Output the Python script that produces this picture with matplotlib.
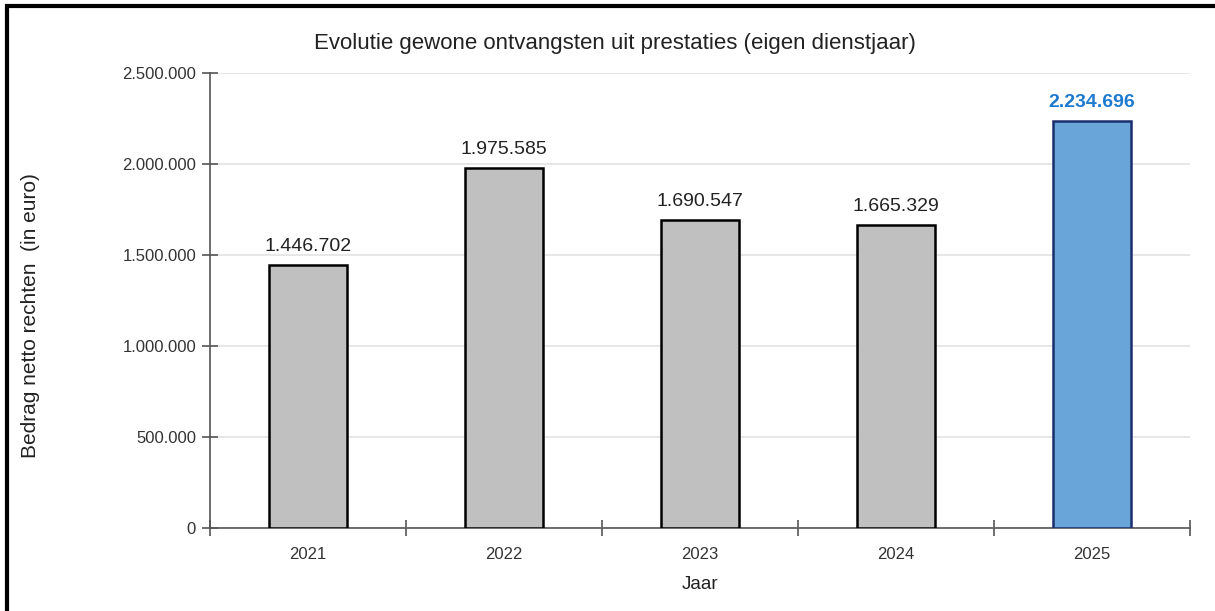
import matplotlib.pyplot as plt
from matplotlib.patches import Rectangle
import numpy as np

plt.rcParams['font.family'] = ['Liberation Sans', 'DejaVu Sans']

years = ['2021', '2022', '2023', '2024', '2025']
values = [1446702, 1975585, 1690547, 1665329, 2234696]
labels = ['1.446.702', '1.975.585', '1.690.547', '1.665.329', '2.234.696']
yticks = [0, 500000, 1000000, 1500000, 2000000, 2500000]
ytick_labels = ['0', '500.000', '1.000.000', '1.500.000', '2.000.000', '2.500.000']

fig = plt.figure(figsize=(12.15, 6.11), dpi=100)
ax = fig.add_axes([0.1728, 0.1358, 0.8066, 0.7447])

x = np.arange(len(years))
face = ['#c0c0c0'] * 4 + ['#6aa5da']
edge = ['#000000'] * 4 + ['#1a2f6e']
ax.bar(x, values, width=0.4, color=face, edgecolor=edge, linewidth=1.8, zorder=3)

for i, (v, lab) in enumerate(zip(values, labels)):
    if i == len(values) - 1:
        ax.text(i, v + 55000, lab, ha='center', va='bottom', fontsize=14,
                color='#1f7bd0', fontweight='bold')
    else:
        ax.text(i, v + 55000, lab, ha='center', va='bottom', fontsize=14,
                color='#222222')

ax.set_xlim(-0.5, 4.5)
ax.set_ylim(0, 2500000)
ax.set_yticks(yticks)
ax.set_yticklabels(ytick_labels)
ax.set_xticks(x)
ax.set_xticklabels(years)
ax.set_xticks(np.arange(-0.5, 5, 1), minor=True)
ax.tick_params(axis='x', which='major', length=0, pad=14, labelsize=12, colors='#333333')
ax.tick_params(axis='x', which='minor', direction='inout', length=12, width=1.2, color='#555555')
ax.tick_params(axis='y', direction='inout', length=12, width=1.2, color='#555555',
               labelsize=12, labelcolor='#333333', pad=4)

ax.grid(axis='y', color='#e3e3e3', linewidth=1.2, zorder=0)
for s in ['top', 'right']:
    ax.spines[s].set_visible(False)
for s in ['left', 'bottom']:
    ax.spines[s].set_color('#555555')
    ax.spines[s].set_linewidth(1.2)

fig.text(615 / 1215, 1 - 44 / 611,
         'Evolutie gewone ontvangsten uit prestaties (eigen dienstjaar)',
         ha='center', va='center', fontsize=16, color='#222222')
ax.set_xlabel('Jaar', fontsize=13.5, color='#222222', labelpad=10)
fig.text(31 / 1215, 1 - 316 / 611, 'Bedrag netto rechten  (in euro)', rotation=90,
         ha='center', va='center', fontsize=15, color='#222222')

# outer frame (left and top edges visible)
fig.patches.append(Rectangle((7 / 1215, -0.05), 1.1, 1 - 6 / 611 + 0.05,
                             transform=fig.transFigure, fill=False,
                             edgecolor='black', linewidth=3))

fig.savefig('out.png', dpi=100)
